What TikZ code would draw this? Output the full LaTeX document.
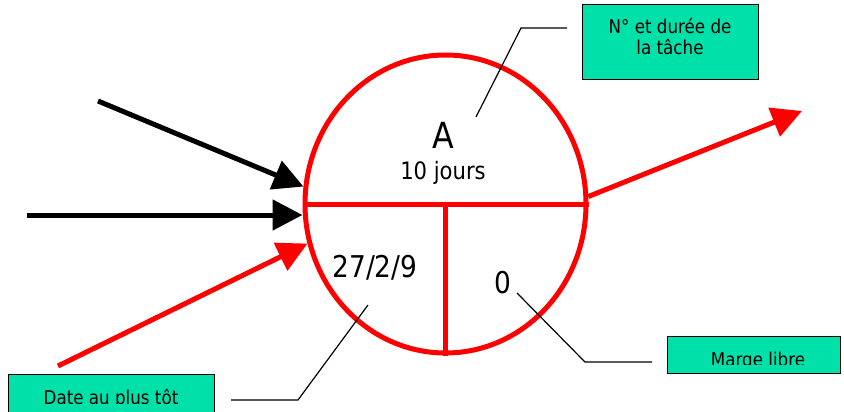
\documentclass[tikz,border=0pt]{standalone}
\usepackage{fontspec}
\setmainfont{DejaVu Sans}[FakeStretch=0.88]
\usetikzlibrary{arrows.meta,shapes.geometric}
\definecolor{boxgreen}{RGB}{0,225,170}
\definecolor{evred}{RGB}{255,0,0}
\begin{document}
\begin{tikzpicture}[x=1pt,y=-1pt,
  evline/.style={draw=evred,line width=5pt},
  bigarrow/.style={line width=5pt,-{Triangle[length=30pt,width=30pt]}},
  leader/.style={draw=black,line width=1.2pt},
  notebox/.style={draw=black,line width=1.3pt,fill=boxgreen,inner sep=0pt,anchor=north west},
  lbl/.style={inner sep=0pt,anchor=base,align=center,font=\fontsize{19}{21}\selectfont},
  evtext/.style={inner sep=0pt,anchor=base}]
\useasboundingbox[fill=white] (0,0) rectangle (844,412);

% event node: ellipse split into three fields
\node[ellipse,draw=evred,line width=5pt,minimum width=281pt,minimum height=298pt,inner sep=0pt] (ev) at (445.5,204) {};
\draw[evline] (ev.west) -- (ev.east);
\draw[evline] (ev.center) -- (ev.south);

\node[evtext,font=\fontsize{36}{40}\selectfont] (task) at (443,148) {A};
\node[evtext,font=\fontsize{24}{28}\selectfont] (dur) at (443,179) {10 jours};
\node[evtext,font=\fontsize{30}{34}\selectfont] (early) at (375,277) {27/2/9};
\node[evtext,font=\fontsize{30}{34}\selectfont] (slack) at (503,293) {0};

% incoming and outgoing arrows
\coordinate (in1) at (98,101);
\coordinate (in2) at (27,215);
\coordinate (in3) at (58,366);
\coordinate (out) at (802,111);
\draw[bigarrow,black] (in1) -- (ev.173);
\draw[bigarrow,black] (in2) -- (in2 -| ev.west);
\draw[bigarrow,evred] (in3) -- (ev.196);
\draw[bigarrow,evred] (ev.3) -- (out);

% note boxes
\node[notebox,minimum width=176pt,minimum height=75pt] (nbox) at (582,4) {};
\node[lbl] (ntext) at (670,55) {N° et durée de\\la tâche};

\node[notebox,minimum width=206pt,minimum height=50pt] (dbox) at (8,374) {};
\begin{scope}
  \clip (8,374) rectangle (214,403);
  \node[lbl] (dtext) at (111,404) {Date au plus tôt};
\end{scope}

\node[notebox,minimum width=173pt,minimum height=37pt] (mbox) at (667,336) {};
\begin{scope}
  \clip (667,336) rectangle (840,364);
  \node[lbl] (mtext) at (758,366) {Marge libre};
\end{scope}

% leader lines from fields to notes
\coordinate (la1) at (476,117);
\coordinate (la2) at (521,28);
\coordinate (la3) at (567,28);
\draw[leader] (la1) -- (la2) -- (la3);
\coordinate (lb1) at (368,305);
\coordinate (lb2) at (298,400);
\coordinate (lb3) at (231,400);
\draw[leader] (lb1) -- (lb2) -- (lb3);
\coordinate (lc1) at (517,293);
\coordinate (lc2) at (585,362);
\coordinate (lc3) at (652,362);
\draw[leader] (lc1) -- (lc2) -- (lc3);
\end{tikzpicture}
\end{document}
